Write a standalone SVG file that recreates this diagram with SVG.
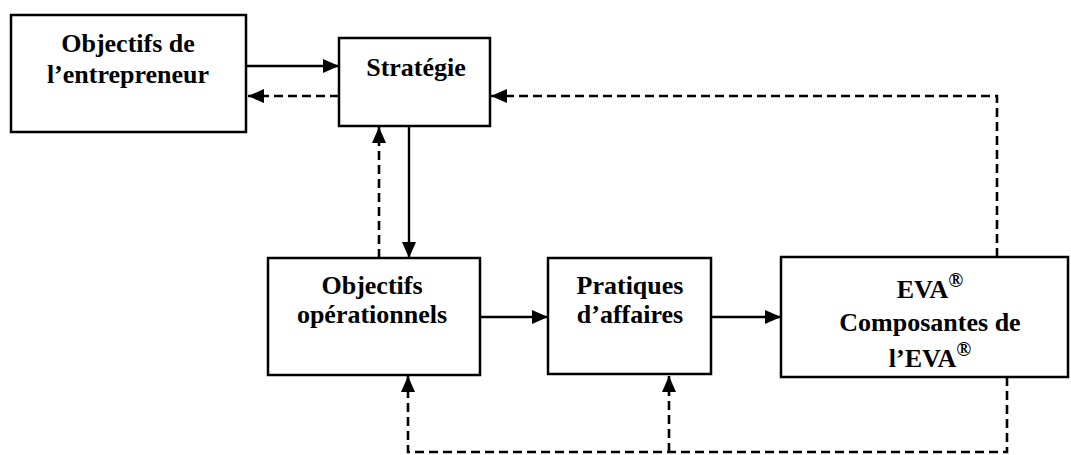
<svg xmlns="http://www.w3.org/2000/svg" width="1071" height="455" viewBox="0 0 1071 455">
<style>
.box{fill:#fff;stroke:#000;stroke-width:2.5}
.t{font-family:"Liberation Serif","Times New Roman",serif;font-weight:bold;font-size:26px;fill:#000;text-anchor:middle}
.sup{font-size:20px}
.s{fill:none;stroke:#000;stroke-width:2.4}
.d{fill:none;stroke:#000;stroke-width:2.6;stroke-dasharray:9,5}
</style>
<defs>
<marker id="ah" markerWidth="16" markerHeight="14" refX="16" refY="7" orient="auto" markerUnits="userSpaceOnUse">
<path d="M0,0 L16,7 L0,14 Z" fill="#000"/>
</marker>
</defs>
<g id="connectors">
<line class="s" x1="246" y1="66" x2="339" y2="66" marker-end="url(#ah)"/>
<line class="d" x1="339" y1="96" x2="248" y2="96" marker-end="url(#ah)"/>
<polyline class="d" points="997,257 997,96 491,96" marker-end="url(#ah)"/>
<line class="d" x1="379" y1="258" x2="379" y2="127" marker-end="url(#ah)"/>
<line class="s" x1="409" y1="127" x2="409" y2="258" marker-end="url(#ah)"/>
<line class="s" x1="480" y1="317" x2="548" y2="317" marker-end="url(#ah)"/>
<line class="s" x1="711" y1="317" x2="781" y2="317" marker-end="url(#ah)"/>
<polyline class="d" points="1007,377 1007,452 408,452 408,376" marker-end="url(#ah)"/>
<line class="d" x1="669" y1="452" x2="669" y2="376" marker-end="url(#ah)"/>
</g>
<g id="objectifs-entrepreneur">
<rect class="box" x="11" y="15" width="235" height="117"/>
<text class="t" x="128" y="52">Objectifs de</text>
<text class="t" x="128" y="83">l’entrepreneur</text>
</g>
<g id="strategie">
<rect class="box" x="339" y="38" width="151" height="88"/>
<text class="t" x="416" y="76">Stratégie</text>
</g>
<g id="objectifs-operationnels">
<rect class="box" x="268" y="258" width="212" height="117"/>
<text class="t" x="372" y="294">Objectifs</text>
<text class="t" x="372" y="323">opérationnels</text>
</g>
<g id="pratiques">
<rect class="box" x="548" y="258" width="163" height="116"/>
<text class="t" x="630" y="294">Pratiques</text>
<text class="t" x="630" y="323">d’affaires</text>
</g>
<g id="eva">
<rect class="box" x="781" y="257" width="287" height="120"/>
<text class="t" x="930" y="298">EVA<tspan class="sup" dy="-11">®</tspan></text>
<text class="t" x="930" y="331">Composantes de</text>
<text class="t" x="930" y="367">l’EVA<tspan class="sup" dy="-11">®</tspan></text>
</g>
</svg>
